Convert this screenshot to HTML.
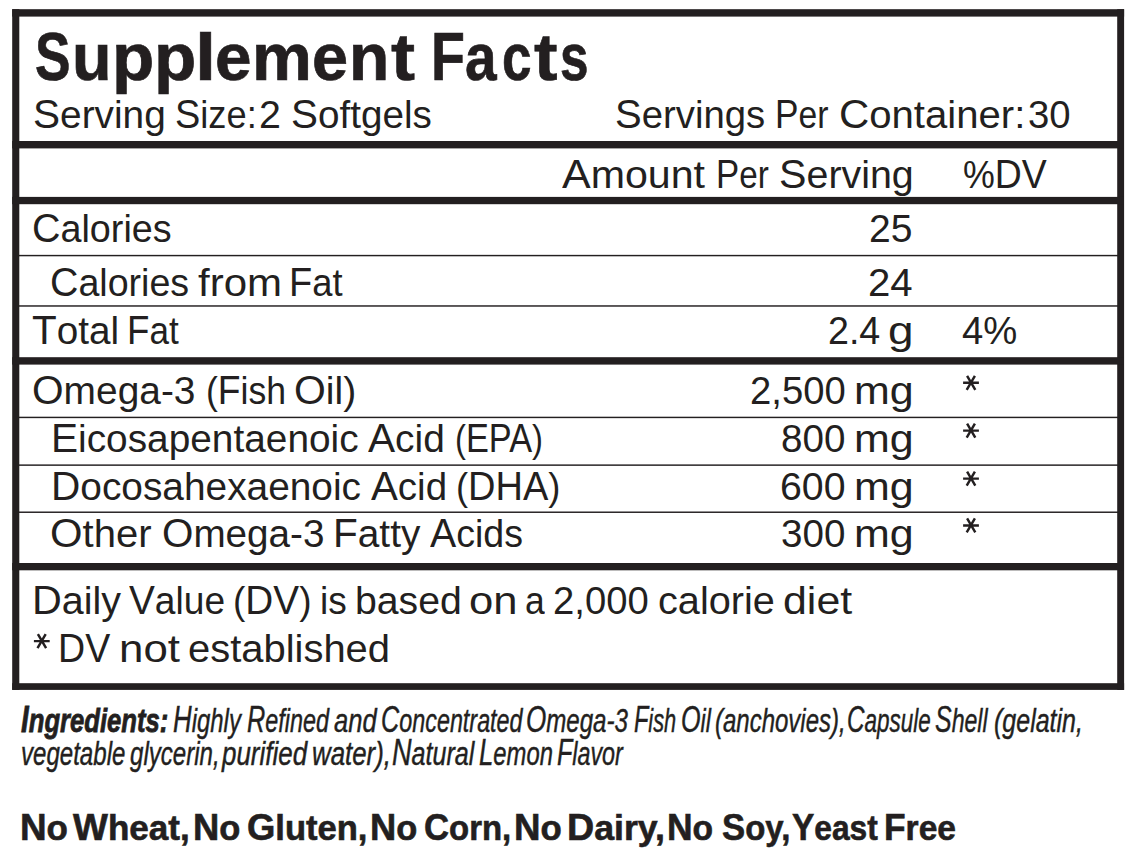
<!DOCTYPE html>
<html lang="en">
<head>
<meta charset="utf-8">
<title>Supplement Facts</title>
<style>
html,body{margin:0;padding:0;background:#fff;}
body{width:1136px;height:861px;position:relative;overflow:hidden;font-family:"Liberation Sans",sans-serif;color:#231f20;}
.t{position:absolute;white-space:pre;line-height:1;transform-origin:0 0;}
.a{position:absolute;overflow:visible;}
.b{font-weight:700;}
.i{font-style:italic;}
.c102_5{font-size:102.5%;line-height:0;}
.c104_5{font-size:104.5%;line-height:0;}
.c105_5{font-size:105.5%;line-height:0;}
.c108{font-size:108%;line-height:0;}
</style>
</head>
<body>
<svg class="a" style="left:0;top:0" width="1136" height="861" viewBox="0 0 1136 861">
<g fill="#231f20">
<rect x="12.2" y="9.2" width="1111.9" height="7.4"/>
<rect x="12.2" y="683.2" width="1111.9" height="6.7"/>
<rect x="12.2" y="9.2" width="7.1" height="680.7"/>
<rect x="1117.2" y="9.2" width="6.9" height="680.7"/>
<rect x="12.2" y="141.0" width="1111.8" height="7.4"/>
<rect x="12.2" y="196.9" width="1111.8" height="7.3"/>
<rect x="12.2" y="357.2" width="1111.8" height="7.4"/>
<rect x="12.2" y="563.0" width="1111.8" height="7.3"/>
<rect x="19" y="254.85" width="1099" height="1.45"/>
<rect x="19" y="305.25" width="1099" height="1.45"/>
<rect x="19" y="416.7" width="1099" height="1.45"/>
<rect x="19" y="464.4" width="1099" height="1.45"/>
<rect x="19" y="511.5" width="1099" height="1.45"/>
</g>
<g stroke="#231f20" fill="none">
<path stroke-width="2.45" d="M963.10 382.80H978.90M967.10 375.80L975.30 389.80M974.90 375.80L966.70 389.80"/>
<path stroke-width="2.45" d="M963.10 430.60H978.90M967.10 423.60L975.30 437.60M974.90 423.60L966.70 437.60"/>
<path stroke-width="2.45" d="M963.10 478.60H978.90M967.10 471.60L975.30 485.60M974.90 471.60L966.70 485.60"/>
<path stroke-width="2.45" d="M963.10 525.40H978.90M967.10 518.40L975.30 532.40M974.90 518.40L966.70 532.40"/>
<path stroke-width="2.45" d="M33.90 641.10H49.70M37.90 634.10L46.10 648.10M45.70 634.10L37.50 648.10"/>
</g>
</svg>
<div class="t b" style="left:34.87px;top:24.17px;font-size:66.5px;transform:scaleX(0.7816);-webkit-text-stroke:0.7px #231f20;"><span class="c102_5">S</span></div>
<div class="t b" style="left:72.15px;top:24.17px;font-size:66.5px;transform:scaleX(0.9732);-webkit-text-stroke:0.7px #231f20;">u</div>
<div class="t b" style="left:112.02px;top:24.17px;font-size:66.5px;transform:scaleX(1.0412);-webkit-text-stroke:0.7px #231f20;">p</div>
<div class="t b" style="left:154.22px;top:24.17px;font-size:66.5px;transform:scaleX(1.0412);-webkit-text-stroke:0.7px #231f20;">p</div>
<div class="t b" style="left:195.10px;top:24.17px;font-size:66.5px;transform:scaleX(1.1427);-webkit-text-stroke:0.7px #231f20;">l</div>
<div class="t b" style="left:215.22px;top:24.17px;font-size:66.5px;transform:scaleX(0.9869);-webkit-text-stroke:0.7px #231f20;">e</div>
<div class="t b" style="left:252.33px;top:24.17px;font-size:66.5px;transform:scaleX(1.0131);-webkit-text-stroke:0.7px #231f20;">m</div>
<div class="t b" style="left:312.45px;top:24.17px;font-size:66.5px;transform:scaleX(0.9747);-webkit-text-stroke:0.7px #231f20;">e</div>
<div class="t b" style="left:349.22px;top:24.17px;font-size:66.5px;transform:scaleX(0.9926);-webkit-text-stroke:0.7px #231f20;">n</div>
<div class="t b" style="left:390.69px;top:24.17px;font-size:66.5px;transform:scaleX(1.0847);-webkit-text-stroke:0.7px #231f20;">t</div>
<div class="t b" style="left:430.90px;top:24.17px;font-size:66.5px;transform:scaleX(0.8140);-webkit-text-stroke:0.7px #231f20;"><span class="c102_5">F</span></div>
<div class="t b" style="left:464.60px;top:24.17px;font-size:66.5px;transform:scaleX(0.8543);-webkit-text-stroke:0.7px #231f20;">a</div>
<div class="t b" style="left:501.94px;top:24.17px;font-size:66.5px;transform:scaleX(0.7991);-webkit-text-stroke:0.7px #231f20;">c</div>
<div class="t b" style="left:534.00px;top:24.17px;font-size:66.5px;transform:scaleX(1.0613);-webkit-text-stroke:0.7px #231f20;">t</div>
<div class="t b" style="left:560.49px;top:24.17px;font-size:66.5px;transform:scaleX(0.7712);-webkit-text-stroke:0.7px #231f20;">s</div>
<div class="t" style="left:33.06px;top:94.70px;font-size:39.2px;transform:scaleX(0.9906);"><span class="c104_5">S</span>erving</div>
<div class="t" style="left:175.10px;top:94.70px;font-size:39.2px;transform:scaleX(0.9253);"><span class="c104_5">S</span>ize:</div>
<div class="t" style="left:258.87px;top:94.70px;font-size:39.2px;transform:scaleX(1.0044);">2</div>
<div class="t" style="left:290.67px;top:94.70px;font-size:39.2px;transform:scaleX(0.9864);"><span class="c104_5">S</span>oftgels</div>
<div class="t" style="left:614.99px;top:94.90px;font-size:39.2px;transform:scaleX(0.9780);"><span class="c104_5">S</span>ervings</div>
<div class="t" style="left:775.37px;top:94.90px;font-size:39.2px;transform:scaleX(0.8592);"><span class="c104_5">P</span>er</div>
<div class="t" style="left:838.56px;top:94.90px;font-size:39.2px;transform:scaleX(1.0230);"><span class="c104_5">C</span>ontainer:</div>
<div class="t" style="left:1028.43px;top:94.90px;font-size:39.2px;transform:scaleX(0.9772);">30</div>
<div class="t" style="left:562.33px;top:155.30px;font-size:39.2px;transform:scaleX(1.0495);"><span class="c104_5">A</span>mount</div>
<div class="t" style="left:715.51px;top:155.30px;font-size:39.2px;transform:scaleX(0.8489);"><span class="c104_5">P</span>er</div>
<div class="t" style="left:779.03px;top:155.30px;font-size:39.2px;transform:scaleX(1.0053);"><span class="c104_5">S</span>erving</div>
<div class="t" style="left:962.58px;top:155.30px;font-size:39.2px;transform:scaleX(0.9127);">%<span class="c104_5">DV</span></div>
<div class="t" style="left:32.29px;top:208.50px;font-size:39.2px;transform:scaleX(0.9632);"><span class="c104_5">C</span>alories</div>
<div class="t" style="left:869.39px;top:208.50px;font-size:39.2px;transform:scaleX(0.9963);">25</div>
<div class="t" style="left:50.40px;top:263.40px;font-size:39.2px;transform:scaleX(0.9597);"><span class="c104_5">C</span>alories</div>
<div class="t" style="left:197.86px;top:263.40px;font-size:39.2px;transform:scaleX(1.0726);">from</div>
<div class="t" style="left:289.14px;top:263.40px;font-size:39.2px;transform:scaleX(0.9272);"><span class="c104_5">F</span>at</div>
<div class="t" style="left:868.43px;top:263.40px;font-size:39.2px;transform:scaleX(1.0258);">24</div>
<div class="t" style="left:32.02px;top:310.70px;font-size:39.2px;transform:scaleX(0.9875);"><span class="c104_5">T</span>otal</div>
<div class="t" style="left:127.15px;top:310.70px;font-size:39.2px;transform:scaleX(0.8957);"><span class="c104_5">F</span>at</div>
<div class="t" style="left:828.27px;top:310.70px;font-size:39.2px;transform:scaleX(0.9599);">2.4</div>
<div class="t" style="left:888.45px;top:310.70px;font-size:39.2px;transform:scaleX(1.1714);">g</div>
<div class="t" style="left:961.74px;top:310.70px;font-size:39.2px;transform:scaleX(0.9755);">4%</div>
<div class="t" style="left:32.30px;top:370.60px;font-size:39.2px;transform:scaleX(0.9924);"><span class="c104_5">O</span>mega-3</div>
<div class="t" style="left:205.83px;top:370.60px;font-size:39.2px;transform:scaleX(0.9089);">(<span class="c104_5">F</span>ish</div>
<div class="t" style="left:294.28px;top:370.60px;font-size:39.2px;transform:scaleX(0.9993);"><span class="c104_5">O</span>il)</div>
<div class="t" style="left:749.83px;top:370.60px;font-size:39.2px;transform:scaleX(0.9760);">2,500</div>
<div class="t" style="left:854.28px;top:370.60px;font-size:39.2px;transform:scaleX(1.0964);">mg</div>
<div class="t" style="left:50.82px;top:418.50px;font-size:39.2px;transform:scaleX(0.9904);"><span class="c104_5">E</span>icosapentaenoic</div>
<div class="t" style="left:368.15px;top:418.50px;font-size:39.2px;transform:scaleX(0.9922);"><span class="c104_5">A</span>cid</div>
<div class="t" style="left:454.51px;top:418.50px;font-size:39.2px;transform:scaleX(0.8376);">(<span class="c104_5">EPA</span>)</div>
<div class="t" style="left:781.28px;top:418.50px;font-size:39.2px;transform:scaleX(0.9849);">800</div>
<div class="t" style="left:854.28px;top:418.50px;font-size:39.2px;transform:scaleX(1.0964);">mg</div>
<div class="t" style="left:50.62px;top:466.50px;font-size:39.2px;transform:scaleX(0.9911);"><span class="c104_5">D</span>ocosahexaenoic</div>
<div class="t" style="left:370.96px;top:466.50px;font-size:39.2px;transform:scaleX(0.9828);"><span class="c104_5">A</span>cid</div>
<div class="t" style="left:456.38px;top:466.50px;font-size:39.2px;transform:scaleX(0.9281);">(<span class="c104_5">DHA</span>)</div>
<div class="t" style="left:780.17px;top:466.50px;font-size:39.2px;transform:scaleX(1.0023);">600</div>
<div class="t" style="left:854.28px;top:466.50px;font-size:39.2px;transform:scaleX(1.0964);">mg</div>
<div class="t" style="left:50.44px;top:513.90px;font-size:39.2px;transform:scaleX(1.0217);"><span class="c104_5">O</span>ther</div>
<div class="t" style="left:162.11px;top:513.90px;font-size:39.2px;transform:scaleX(0.9862);"><span class="c104_5">O</span>mega-3</div>
<div class="t" style="left:332.93px;top:513.90px;font-size:39.2px;transform:scaleX(0.9902);"><span class="c104_5">F</span>atty</div>
<div class="t" style="left:430.47px;top:513.90px;font-size:39.2px;transform:scaleX(0.9586);"><span class="c104_5">A</span>cids</div>
<div class="t" style="left:781.31px;top:513.90px;font-size:39.2px;transform:scaleX(0.9844);">300</div>
<div class="t" style="left:854.28px;top:513.90px;font-size:39.2px;transform:scaleX(1.0964);">mg</div>
<div class="t" style="left:31.97px;top:580.70px;font-size:39.2px;transform:scaleX(1.0077);"><span class="c104_5">D</span>aily</div>
<div class="t" style="left:128.68px;top:580.70px;font-size:39.2px;transform:scaleX(0.9468);"><span class="c104_5">V</span>alue</div>
<div class="t" style="left:232.84px;top:580.70px;font-size:39.2px;transform:scaleX(0.9454);">(<span class="c104_5">DV</span>)</div>
<div class="t" style="left:319.58px;top:580.70px;font-size:39.2px;transform:scaleX(0.9463);">is</div>
<div class="t" style="left:354.62px;top:580.70px;font-size:39.2px;transform:scaleX(1.0002);">based</div>
<div class="t" style="left:468.85px;top:580.70px;font-size:39.2px;transform:scaleX(1.1129);">on</div>
<div class="t" style="left:524.55px;top:580.70px;font-size:39.2px;transform:scaleX(0.9056);">a</div>
<div class="t" style="left:552.63px;top:580.70px;font-size:39.2px;transform:scaleX(0.9760);">2,000</div>
<div class="t" style="left:657.58px;top:580.70px;font-size:39.2px;transform:scaleX(1.0123);">calorie</div>
<div class="t" style="left:782.58px;top:580.70px;font-size:39.2px;transform:scaleX(1.0952);">diet</div>
<div class="t" style="left:58.47px;top:629.00px;font-size:39.2px;transform:scaleX(0.9172);"><span class="c104_5">DV</span></div>
<div class="t" style="left:118.83px;top:629.00px;font-size:39.2px;transform:scaleX(1.1185);">not</div>
<div class="t" style="left:187.97px;top:629.00px;font-size:39.2px;transform:scaleX(1.0191);">established</div>
<div class="t b i" style="left:20.55px;top:703.61px;font-size:33.4px;transform:scaleX(0.7683);-webkit-text-stroke:0.8px #231f20;"><span class="c108">I</span>ngredients:</div>
<div class="t i" style="left:173.08px;top:703.65px;font-size:33.6px;transform:scaleX(0.7125);-webkit-text-stroke:0.45px #231f20;"><span class="c108">H</span>ighly</div>
<div class="t i" style="left:247.40px;top:703.65px;font-size:33.6px;transform:scaleX(0.6965);-webkit-text-stroke:0.45px #231f20;"><span class="c108">R</span>efined</div>
<div class="t i" style="left:333.77px;top:703.65px;font-size:33.6px;transform:scaleX(0.7600);-webkit-text-stroke:0.45px #231f20;">and</div>
<div class="t i" style="left:380.59px;top:703.65px;font-size:33.6px;transform:scaleX(0.6956);-webkit-text-stroke:0.45px #231f20;"><span class="c108">C</span>oncentrated</div>
<div class="t i" style="left:526.16px;top:703.65px;font-size:33.6px;transform:scaleX(0.7173);-webkit-text-stroke:0.45px #231f20;"><span class="c108">O</span>mega-3</div>
<div class="t i" style="left:633.66px;top:703.65px;font-size:33.6px;transform:scaleX(0.6482);-webkit-text-stroke:0.45px #231f20;"><span class="c108">F</span>ish</div>
<div class="t i" style="left:680.50px;top:703.65px;font-size:33.6px;transform:scaleX(0.6933);-webkit-text-stroke:0.45px #231f20;"><span class="c108">O</span>il</div>
<div class="t i" style="left:715.18px;top:703.65px;font-size:33.6px;transform:scaleX(0.7146);-webkit-text-stroke:0.45px #231f20;">(anchovies),</div>
<div class="t i" style="left:847.43px;top:703.65px;font-size:33.6px;transform:scaleX(0.6692);-webkit-text-stroke:0.45px #231f20;"><span class="c108">C</span>apsule</div>
<div class="t i" style="left:935.36px;top:703.65px;font-size:33.6px;transform:scaleX(0.6884);-webkit-text-stroke:0.45px #231f20;"><span class="c108">S</span>hell</div>
<div class="t i" style="left:994.14px;top:703.65px;font-size:33.6px;transform:scaleX(0.7444);-webkit-text-stroke:0.45px #231f20;">(gelatin,</div>
<div class="t i" style="left:21.22px;top:737.35px;font-size:33.6px;transform:scaleX(0.7167);-webkit-text-stroke:0.45px #231f20;">vegetable</div>
<div class="t i" style="left:130.34px;top:737.35px;font-size:33.6px;transform:scaleX(0.7173);-webkit-text-stroke:0.45px #231f20;">glycerin,</div>
<div class="t i" style="left:222.25px;top:737.35px;font-size:33.6px;transform:scaleX(0.7727);-webkit-text-stroke:0.45px #231f20;">purified</div>
<div class="t i" style="left:311.87px;top:737.35px;font-size:33.6px;transform:scaleX(0.7691);-webkit-text-stroke:0.45px #231f20;">water),</div>
<div class="t i" style="left:391.74px;top:737.35px;font-size:33.6px;transform:scaleX(0.7464);-webkit-text-stroke:0.45px #231f20;"><span class="c108">N</span>atural</div>
<div class="t i" style="left:478.69px;top:737.35px;font-size:33.6px;transform:scaleX(0.7093);-webkit-text-stroke:0.45px #231f20;"><span class="c108">L</span>emon</div>
<div class="t i" style="left:556.80px;top:737.35px;font-size:33.6px;transform:scaleX(0.6932);-webkit-text-stroke:0.45px #231f20;"><span class="c108">F</span>lavor</div>
<div class="t b" style="left:19.98px;top:810.44px;font-size:35px;transform:scaleX(0.9988);-webkit-text-stroke:0.6px #231f20;"><span class="c105_5">N</span>o</div>
<div class="t b" style="left:73.44px;top:810.44px;font-size:35px;transform:scaleX(1.0009);-webkit-text-stroke:0.6px #231f20;"><span class="c105_5">W</span>heat,</div>
<div class="t b" style="left:192.61px;top:810.44px;font-size:35px;transform:scaleX(0.9853);-webkit-text-stroke:0.6px #231f20;"><span class="c105_5">N</span>o</div>
<div class="t b" style="left:247.22px;top:810.44px;font-size:35px;transform:scaleX(0.9869);-webkit-text-stroke:0.6px #231f20;"><span class="c105_5">G</span>luten,</div>
<div class="t b" style="left:370.11px;top:810.44px;font-size:35px;transform:scaleX(0.9831);-webkit-text-stroke:0.6px #231f20;"><span class="c105_5">N</span>o</div>
<div class="t b" style="left:424.47px;top:810.44px;font-size:35px;transform:scaleX(0.9405);-webkit-text-stroke:0.6px #231f20;"><span class="c105_5">C</span>orn,</div>
<div class="t b" style="left:514.19px;top:810.44px;font-size:35px;transform:scaleX(0.9943);-webkit-text-stroke:0.6px #231f20;"><span class="c105_5">N</span>o</div>
<div class="t b" style="left:567.23px;top:810.44px;font-size:35px;transform:scaleX(1.0194);-webkit-text-stroke:0.6px #231f20;"><span class="c105_5">D</span>airy,</div>
<div class="t b" style="left:667.46px;top:810.44px;font-size:35px;transform:scaleX(0.9607);-webkit-text-stroke:0.6px #231f20;"><span class="c105_5">N</span>o</div>
<div class="t b" style="left:721.65px;top:810.44px;font-size:35px;transform:scaleX(0.9405);-webkit-text-stroke:0.6px #231f20;"><span class="c105_5">S</span>oy,</div>
<div class="t b" style="left:791.65px;top:810.44px;font-size:35px;transform:scaleX(0.9060);-webkit-text-stroke:0.6px #231f20;"><span class="c105_5">Y</span>east</div>
<div class="t b" style="left:883.97px;top:810.44px;font-size:35px;transform:scaleX(0.9582);-webkit-text-stroke:0.6px #231f20;"><span class="c105_5">F</span>ree</div>
</body>
</html>
